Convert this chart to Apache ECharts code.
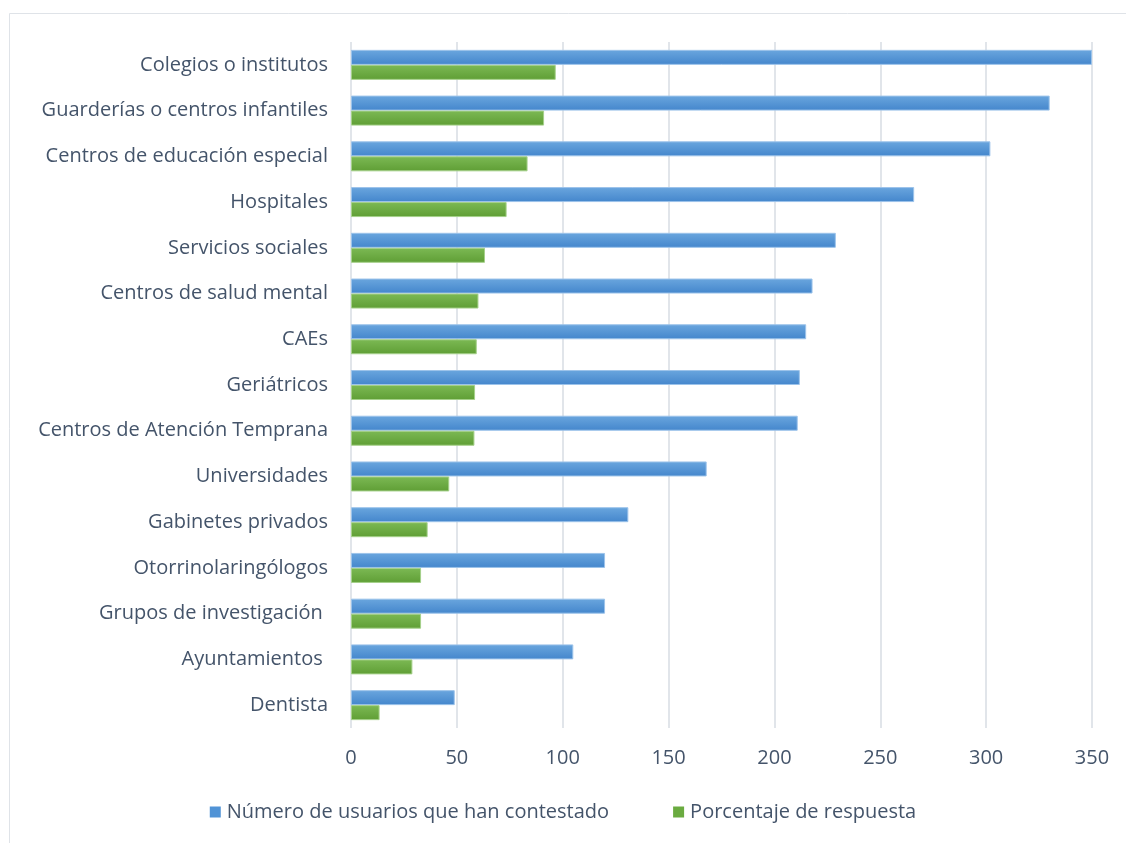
<!DOCTYPE html>
<html>
<head>
<meta charset="utf-8">
<script src="https://cdn.jsdelivr.net/npm/echarts@6/dist/echarts.min.js"></script>
<style>
  html, body { margin: 0; padding: 0; background: #ffffff; }
  #chart { width: 1126px; height: 843px; }
</style>
</head>
<body>
<div id="chart"></div>
<script>
// Categories, top to bottom
const categories = [
  'Colegios o institutos',
  'Guarderías o centros infantiles',
  'Centros de educación especial',
  'Hospitales',
  'Servicios sociales',
  'Centros de salud mental',
  'CAEs',
  'Geriátricos',
  'Centros de Atención Temprana',
  'Universidades',
  'Gabinetes privados',
  'Otorrinolaringólogos',
  'Grupos de investigación ',
  'Ayuntamientos ',
  'Dentista'
];

// Number of users who answered
const usuarios = [350, 330, 302, 266, 229, 218, 215, 212, 211, 168, 131, 120, 120, 105, 49];

// Response percentage
const porcentaje = [96.7, 91.2, 83.4, 73.5, 63.3, 60.2, 59.4, 58.6, 58.3, 46.4, 36.2, 33.1, 33.1, 29.0, 13.5];

const seriesNames = ['Número de usuarios que han contestado', 'Porcentaje de respuesta'];
const xTicks = { min: 0, max: 350, step: 50 };

const textColor = '#44546a';
const font = 'Open Sans';
const fontSize = 20;

function grad(top, bottom) {
  return new echarts.graphic.LinearGradient(0, 0, 0, 1, [
    { offset: 0, color: top },
    { offset: 1, color: bottom }
  ]);
}

const chart = echarts.init(document.getElementById('chart'));
chart.setOption({
  animation: false,
  backgroundColor: '#ffffff',
  textStyle: { fontFamily: font },
  graphic: [{
    type: 'rect',
    shape: { x: 9.5, y: 13.5, width: 1130, height: 840 },
    style: { fill: 'none', stroke: '#dfe3e8', lineWidth: 1 },
    silent: true
  }],
  grid: { left: 351, right: 34, top: 42, bottom: 115 },
  legend: {
    bottom: 16,
    left: 'center',
    itemWidth: 11,
    itemHeight: 11,
    itemGap: 64,
    icon: 'rect',
    itemStyle: { borderWidth: 0 },
    textStyle: { color: textColor, fontSize: fontSize, fontFamily: font, padding: [0, 0, 0, 1] },
    data: [
      { name: seriesNames[0], itemStyle: { color: '#5093d6', borderWidth: 0 } },
      { name: seriesNames[1], itemStyle: { color: '#6aab40', borderWidth: 0 } }
    ]
  },
  xAxis: {
    type: 'value',
    min: xTicks.min,
    max: xTicks.max,
    interval: xTicks.step,
    axisLine: { show: false },
    axisTick: { show: false },
    axisLabel: { color: textColor, fontSize: fontSize, fontFamily: font, margin: 20 },
    splitLine: { lineStyle: { color: '#e1e5ea', width: 2 } }
  },
  yAxis: {
    type: 'category',
    inverse: true,
    data: categories,
    axisLine: { show: false },
    axisTick: { show: false },
    axisLabel: { color: textColor, fontSize: fontSize, fontFamily: font, margin: 23 }
  },
  series: [
    {
      name: seriesNames[0],
      type: 'bar',
      data: usuarios,
      barWidth: 15,
      barGap: '0%',
      itemStyle: {
        color: grad('#6aa6de', '#4486cc'),
        borderColor: '#9cc3ea',
        borderWidth: 1
      }
    },
    {
      name: seriesNames[1],
      type: 'bar',
      data: porcentaje,
      barWidth: 15,
      barGap: '0%',
      itemStyle: {
        color: grad('#7cb954', '#5f9e35'),
        borderColor: '#a5d08a',
        borderWidth: 1
      }
    }
  ]
});
</script>
</body>
</html>
